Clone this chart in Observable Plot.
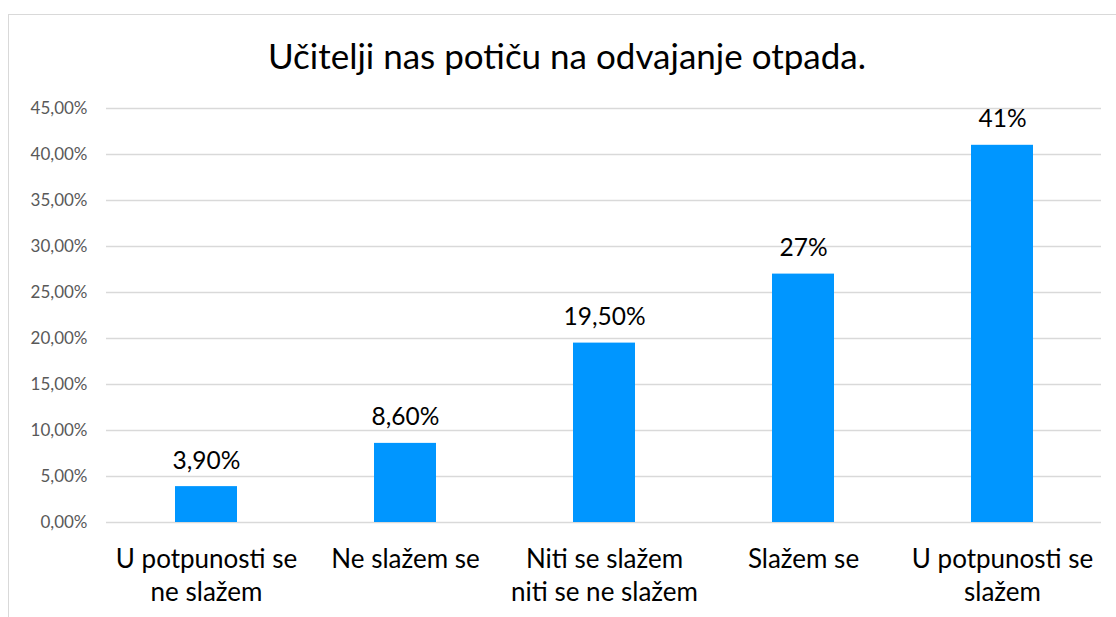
<!DOCTYPE html>
<html>
<head>
<meta charset="utf-8">
<script src="https://cdn.jsdelivr.net/npm/d3@7"></script>
<script src="https://cdn.jsdelivr.net/npm/@observablehq/plot@0.6"></script>
<style>
  html, body { margin: 0; padding: 0; background: #fff; }
  #wrap { position: relative; width: 1116px; height: 617px; overflow: hidden; font-family: Lato, "Open Sans", sans-serif; }
  #frame { position: absolute; left: 8px; top: 14px; width: 1200px; height: 700px; border-left: 1.5px solid #d9d9d9; border-top: 1.5px solid #d9d9d9; box-sizing: border-box; }
  #title { position: absolute; left: 0; width: 1134px; top: 38px; text-align: center; font-size: 35px; color: #000; line-height: 1; white-space: nowrap; }
  #chart { position: absolute; left: 0; top: 95px; }
</style>
</head>
<body>
<div id="wrap">
  <div id="frame"></div>
  <div id="title">Učitelji nas potiču na odvajanje otpada.</div>
  <div id="chart"></div>
</div>
<script>
const categories = ["U potpunosti se\nne slažem", "Ne slažem se", "Niti se slažem\nniti se ne slažem", "Slažem se", "U potpunosti se\nslažem"];
const values = [3.9, 8.6, 19.5, 27, 41];
const valueLabels = ["3,90%", "8,60%", "19,50%", "27%", "41%"];
const yTicks = [0, 5, 10, 15, 20, 25, 30, 35, 40, 45];
const yTickLabels = ["0,00%", "5,00%", "10,00%", "15,00%", "20,00%", "25,00%", "30,00%", "35,00%", "40,00%", "45,00%"];

const data = categories.map((c, i) => ({cat: c, value: values[i], label: valueLabels[i]}));

const plot = Plot.plot({
  width: 1116,
  height: 522,
  marginLeft: 106,
  marginRight: 15,
  marginTop: 13,
  marginBottom: 95,
  style: {fontFamily: "Lato, 'Open Sans', sans-serif", background: "transparent", overflow: "visible"},
  x: {domain: categories, paddingInner: 0.69, paddingOuter: 0.345, label: null},
  y: {domain: [0, 45], label: null},
  marks: [
    Plot.ruleY(yTicks, {stroke: "#d9d9d9", strokeWidth: 1.3}),
    Plot.barY(data, {x: "cat", y: "value", fill: "#0096ff"}),
    Plot.text(data, {x: "cat", y: "value", text: "label", lineAnchor: "bottom", dy: -18, fontSize: 24.5, fill: "#000"}),
    Plot.axisY({ticks: yTicks, tickFormat: (d) => yTickLabels[yTicks.indexOf(d)], tickSize: 0, tickPadding: 19, fontSize: 17, fill: "#595959", label: null}),
    Plot.axisX({tickSize: 0, tickPadding: 21, fontSize: 26, lineHeight: 1.3, fill: "#000", label: null})
  ]
});
document.getElementById("chart").appendChild(plot);
</script>
</body>
</html>
